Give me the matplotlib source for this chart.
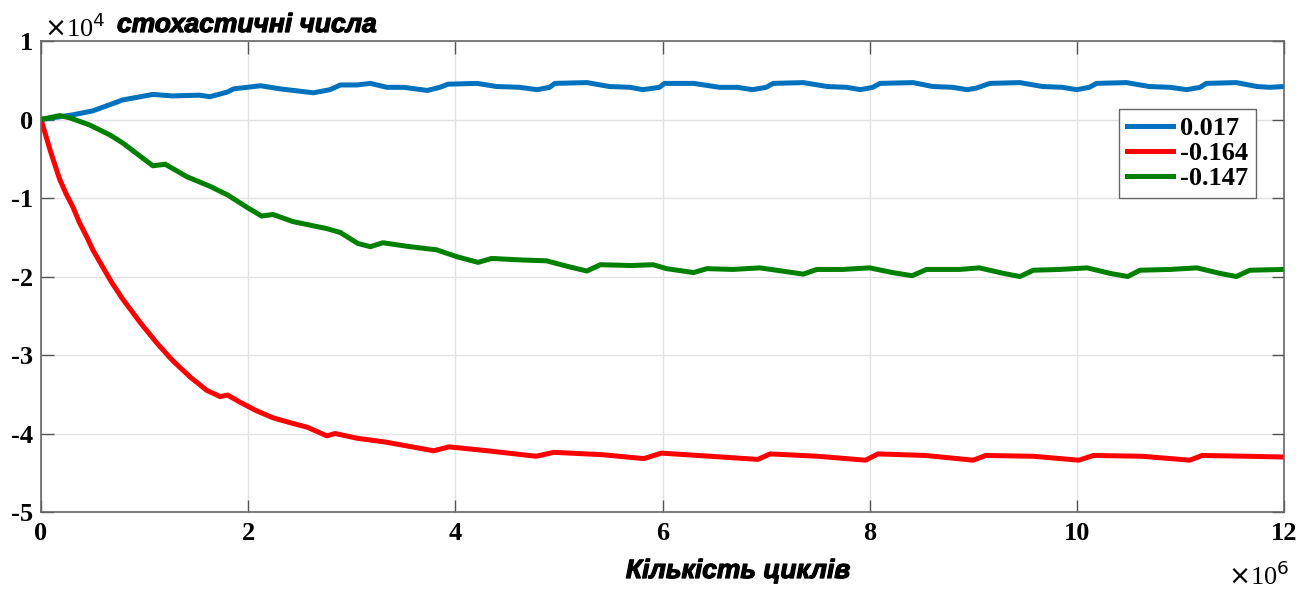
import matplotlib
matplotlib.use("Agg")
import matplotlib.pyplot as plt
import matplotlib.patheffects as pe

# Cycle counts (x 10^6) and accumulated sums (x 10^4) for three stochastic sequences
blue_x = [0.0, 0.31, 0.5, 0.73, 0.79, 0.96, 1.08, 1.27, 1.53, 1.63, 1.80, 1.86, 2.12, 2.31,
          2.63, 2.79, 2.89, 3.05, 3.18, 3.34, 3.50, 3.73, 3.85, 3.93, 4.21, 4.40, 4.62,
          4.79, 4.91, 4.96, 5.27, 5.49, 5.69, 5.81, 5.97, 6.02, 6.30, 6.55, 6.72, 6.87,
          7.00, 7.07, 7.36, 7.59, 7.78, 7.91, 8.03, 8.10, 8.42, 8.61, 8.80, 8.94, 9.03,
          9.16, 9.45, 9.67, 9.86, 10.00, 10.12, 10.19, 10.48, 10.70, 10.90, 11.06, 11.19,
          11.25, 11.54, 11.74, 11.86, 12.0]
blue_y = [0.0, 0.06, 0.11, 0.22, 0.25, 0.29, 0.32, 0.30, 0.31, 0.29, 0.35, 0.39, 0.43, 0.39,
          0.34, 0.38, 0.44, 0.44, 0.46, 0.41, 0.41, 0.37, 0.41, 0.45, 0.46, 0.42, 0.41,
          0.38, 0.41, 0.46, 0.47, 0.42, 0.41, 0.38, 0.41, 0.46, 0.46, 0.41, 0.41, 0.38,
          0.41, 0.46, 0.47, 0.42, 0.41, 0.38, 0.41, 0.46, 0.47, 0.42, 0.41, 0.38, 0.40,
          0.46, 0.47, 0.42, 0.41, 0.38, 0.41, 0.46, 0.47, 0.42, 0.41, 0.38, 0.41,
          0.46, 0.47, 0.42, 0.41, 0.42]

red_x = [0.0, 0.05, 0.09, 0.14, 0.18, 0.24, 0.31, 0.37, 0.44, 0.50, 0.57, 0.68, 0.79, 0.96,
         1.12, 1.27, 1.44, 1.60, 1.73, 1.80, 1.92, 2.08, 2.24, 2.40, 2.57, 2.76, 2.84,
         3.05, 3.33, 3.79, 3.94, 4.31, 4.78, 4.95, 5.42, 5.82, 5.99, 6.46, 6.92, 7.04,
         7.50, 7.96, 8.08, 8.54, 9.00, 9.12, 9.58, 10.02, 10.16, 10.63, 11.09, 11.21,
         11.67, 12.0]
red_y = [0.0, -0.22, -0.40, -0.60, -0.76, -0.94, -1.12, -1.31, -1.49, -1.66, -1.82, -2.07,
         -2.29, -2.59, -2.85, -3.07, -3.28, -3.45, -3.53, -3.51, -3.60, -3.71, -3.80,
         -3.86, -3.92, -4.03, -4.00, -4.06, -4.11, -4.22, -4.17, -4.22, -4.29, -4.24,
         -4.27, -4.32, -4.25, -4.29, -4.33, -4.26, -4.29, -4.34, -4.26, -4.28, -4.34,
         -4.28, -4.29, -4.34, -4.28, -4.29, -4.34, -4.28, -4.29, -4.30]

green_x = [0.0, 0.18, 0.28, 0.47, 0.67, 0.79, 0.96, 1.08, 1.20, 1.41, 1.63, 1.80, 1.99,
           2.13, 2.24, 2.43, 2.76, 2.89, 3.06, 3.18, 3.30, 3.56, 3.82, 4.02, 4.22, 4.35,
           4.65, 4.88, 5.11, 5.27, 5.40, 5.69, 5.91, 6.04, 6.30, 6.43, 6.68, 6.94, 7.10,
           7.36, 7.49, 7.74, 8.00, 8.22, 8.41, 8.55, 8.87, 9.06, 9.29, 9.45, 9.58, 9.84,
           10.10, 10.32, 10.49, 10.61, 10.90, 11.16, 11.38, 11.54, 11.67, 12.0]
green_y = [0.0, 0.05, 0.02, -0.07, -0.20, -0.30, -0.47, -0.59, -0.57, -0.73, -0.85, -0.96,
           -1.12, -1.23, -1.21, -1.30, -1.39, -1.44, -1.58, -1.62, -1.57, -1.62, -1.66,
           -1.75, -1.82, -1.77, -1.79, -1.80, -1.88, -1.93, -1.85, -1.86, -1.85, -1.90,
           -1.95, -1.90, -1.91, -1.89, -1.92, -1.97, -1.91, -1.91, -1.89, -1.95, -1.99,
           -1.91, -1.91, -1.89, -1.96, -2.00, -1.92, -1.91, -1.89, -1.96, -2.00, -1.92,
           -1.91, -1.89, -1.96, -2.00, -1.92, -1.91]

series_labels = ["0.017", "-0.164", "-0.147"]
x_ticks = [0, 2, 4, 6, 8, 10, 12]
y_ticks = [1, 0, -1, -2, -3, -4, -5]

W, H = 1315, 589
fig = plt.figure(figsize=(W / 100, H / 100), dpi=100)
ax = fig.add_axes([41 / W, 1 - 512 / H, (1284 - 41) / W, (512 - 41) / H])

lw = 3.6
ax.plot(blue_x, blue_y, color="#0072BD", lw=lw, label=series_labels[0], solid_joinstyle="round")
ax.plot(red_x, red_y, color="#FF0000", lw=lw, label=series_labels[1], solid_joinstyle="round")
ax.plot(green_x, green_y, color="#008000", lw=lw, label=series_labels[2], solid_joinstyle="round")

ax.set_xlim(0, 12)
ax.set_ylim(-5, 1)
ax.set_xticks(x_ticks)
ax.set_yticks(y_ticks)

tick_font = dict(family="Liberation Serif", weight="bold", size=19)
ax.set_xticklabels([str(t) for t in x_ticks], fontdict=tick_font)
ax.set_yticklabels([str(t) for t in y_ticks], fontdict=tick_font)
ax.tick_params(direction="in", length=9, width=1, color="#555555",
               top=True, right=True, pad=6)
ax.tick_params(axis="x", pad=7)

ax.grid(True, color="#e2e2e2", lw=1)
ax.set_axisbelow(True)
for s in ax.spines.values():
    s.set_color("#666666")
    s.set_linewidth(1.2)

leg = ax.legend(loc="upper right", bbox_to_anchor=(0.9775, 0.856),
                prop=dict(family="Liberation Serif", weight="bold", size=19),
                handlelength=1.75, handletextpad=0.25, borderpad=0.3,
                labelspacing=0.05, borderaxespad=0, fancybox=False, framealpha=1)
leg.get_frame().set_edgecolor("#666666")
leg.get_frame().set_linewidth(1.0)

# Exponent multipliers and captions
heavy = [pe.withStroke(linewidth=0.9, foreground="black")]
fig.text(44 / W, 1 - 28 / H, r"$\times$10$^{4}$", family="Liberation Serif",
         size=19, ha="left", va="center")
fig.text(117 / W, 1 - 25 / H, "стохастичні числа", family="Liberation Sans",
         weight="bold", style="italic", size=19, ha="left", va="center",
         path_effects=heavy)
fig.text(738 / W, 1 - 571 / H, "Кількість циклів", family="Liberation Sans",
         weight="bold", style="italic", size=19, ha="center", va="center",
         path_effects=heavy)
fig.text(1228 / W, 1 - 576 / H, r"$\times$10$^{6}$", family="Liberation Serif",
         size=19, ha="left", va="center")

fig.savefig("out.png", dpi=100)
